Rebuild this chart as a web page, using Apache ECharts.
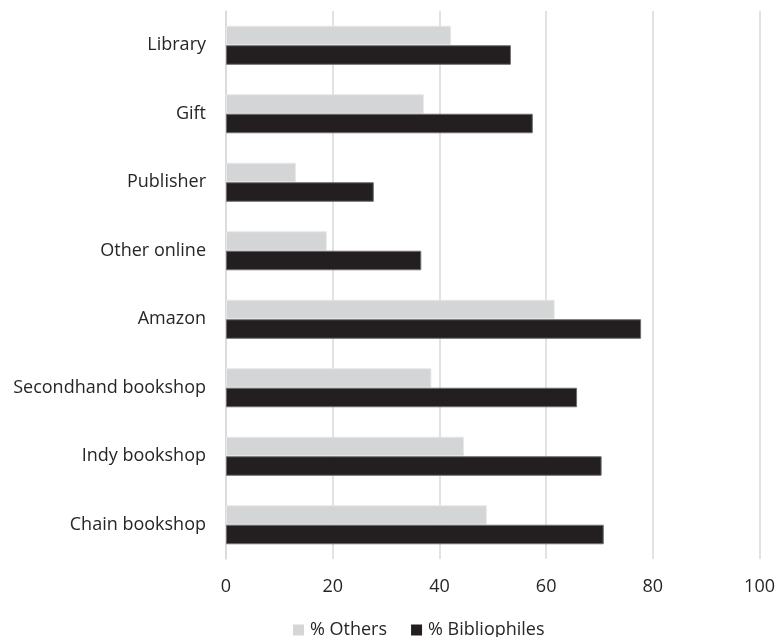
<!DOCTYPE html>
<html>
<head>
<meta charset="utf-8">
<script src="https://cdn.jsdelivr.net/npm/echarts@6/dist/echarts.min.js"></script>
<style>html,body{margin:0;padding:0;background:#fff;}#c{width:778px;height:637px;}</style>
</head>
<body>
<div id="c"></div>
<script>
const categories = ['Library','Gift','Publisher','Other online','Amazon','Secondhand bookshop','Indy bookshop','Chain bookshop'];
const others = [42.2, 37.1, 13.1, 18.9, 61.6, 38.5, 44.6, 48.9];
const bibliophiles = [53.4, 57.5, 27.7, 36.6, 77.8, 65.8, 70.4, 70.8];
const xTicks = [0, 20, 40, 60, 80, 100];

const chart = echarts.init(document.getElementById('c'));
const font = '"Open Sans", sans-serif';
chart.setOption({
  animation: false,
  textStyle: {fontFamily: font},
  grid: {left: 226, right: 18, top: 11, bottom: 78},
  xAxis: {
    type: 'value', min: xTicks[0], max: xTicks[xTicks.length-1], interval: 20,
    axisLine: {show: false}, axisTick: {show: false},
    splitLine: {lineStyle: {color: '#d9d9d9', width: 1.5}},
    axisLabel: {color: '#262626', fontSize: 18, margin: 19, fontFamily: font}
  },
  yAxis: {
    type: 'category', data: categories, inverse: true,
    axisLine: {lineStyle: {color: '#d9d9d9', width: 1.5}},
    axisTick: {show: false},
    axisLabel: {color: '#262626', fontSize: 18, margin: 20, fontFamily: font}
  },
  legend: {
    top: 616, left: 288, icon: 'rect', itemWidth: 11, itemHeight: 11, itemGap: 24,
    itemStyle: {borderWidth: 0},
    textStyle: {color: '#262626', fontSize: 18, fontFamily: font, padding: [0, 0, 0, 1]},
    data: ['% Others', '% Bibliophiles']
  },
  series: [
    {name: '% Others', type: 'bar', data: others, barGap: '0%', barCategoryGap: '43%',
     itemStyle: {color: '#d4d5d6', borderColor: '#e8e8e8', borderWidth: 1}},
    {name: '% Bibliophiles', type: 'bar', data: bibliophiles, barGap: '0%', barCategoryGap: '43%',
     itemStyle: {color: '#231f20', borderColor: '#6e6e6e', borderWidth: 1}}
  ]
});
</script>
</body>
</html>
